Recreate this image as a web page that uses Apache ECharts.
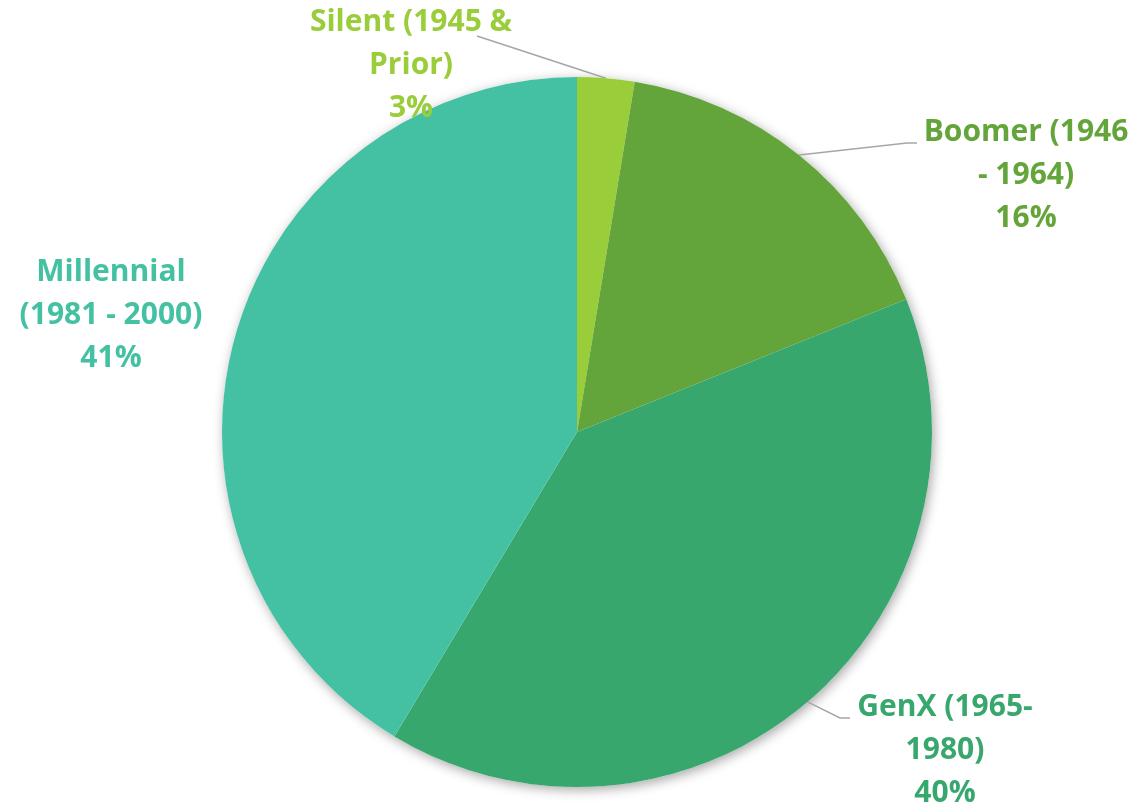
<!DOCTYPE html>
<html>
<head>
<meta charset="utf-8">
<script src="https://cdn.jsdelivr.net/npm/echarts@6/dist/echarts.min.js"></script>
<style>
html,body{margin:0;padding:0;background:#fff;}
#main{width:1134px;height:810px;}
</style>
</head>
<body>
<div id="main"></div>
<script>
const categories = ["Silent (1945 &\nPrior)", "Boomer (1946\n- 1964)", "GenX (1965-\n1980)", "Millennial\n(1981 - 2000)"];
const values = [2.6, 16.3, 39.7, 41.4];
const colors = ["#9ACD3A", "#63A53A", "#38A76E", "#44C1A3"];

// label placement (centre of each text block) and elbow of leader lines
const labelPos = [
  {x: 411, y: 65, line: [[477, 36]]},
  {x: 1026, y: 175, line: [[907, 143], [917, 143]]},
  {x: 945, y: 750, line: [[840, 718], [850, 718]]},
  {x: 111, y: 315, line: null}
];

const chart = echarts.init(document.getElementById('main'), null, {renderer: 'canvas'});
chart.setOption({
  animation: false,
  series: [{
    // backdrop disc providing the outer shadow of the whole pie
    type: 'pie',
    center: [577, 432],
    radius: [0, 355],
    silent: true,
    z: 1,
    label: {show: false},
    labelLine: {show: false},
    data: [{value: 1, itemStyle: {color: '#ffffff'}}],
    itemStyle: {
      shadowBlur: 12,
      shadowColor: 'rgba(0,0,0,0.35)',
      shadowOffsetX: 2,
      shadowOffsetY: 3
    }
  }, {
    type: 'pie',
    center: [577, 432],
    radius: [0, 355],
    startAngle: 90,
    clockwise: true,
    z: 2,
    data: categories.map((c, i) => ({
      name: c,
      value: values[i],
      itemStyle: {color: colors[i]},
      label: {color: colors[i]}
    })),
    label: {
      show: true,
      position: 'outside',
      fontFamily: 'Open Sans',
      fontWeight: 'bold',
      fontSize: 30,
      lineHeight: 43,
      align: 'center',
      overflow: 'none',
      formatter: p => p.name + '\n' + Math.round(p.percent) + '%'
    },
    labelLine: {
      show: true,
      lineStyle: {color: '#A6A6A6', width: 1.5}
    },
    labelLayout: function (params) {
      const lp = labelPos[params.dataIndex];
      const res = {x: lp.x, y: lp.y, align: 'center', verticalAlign: 'middle'};
      if (lp.line && params.labelLinePoints) {
        res.labelLinePoints = [params.labelLinePoints[0]].concat(lp.line);
      } else {
        res.labelLinePoints = [[0,0],[0,0]];
      }
      return res;
    }
  }]
});
</script>
</body>
</html>
